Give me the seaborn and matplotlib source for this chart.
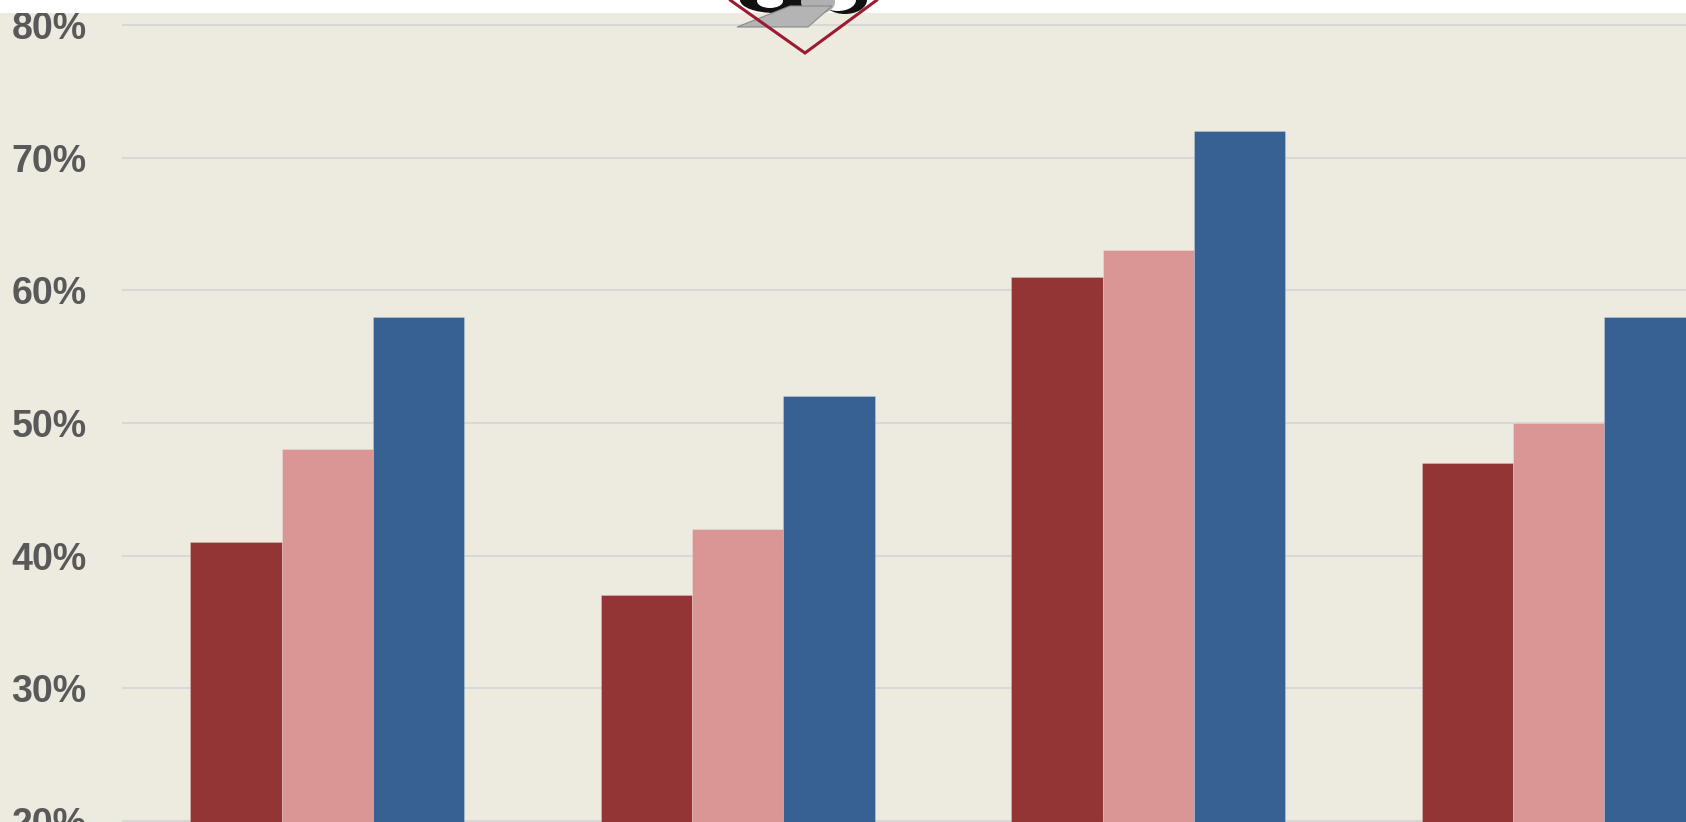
import matplotlib
matplotlib.use("Agg")
import numpy as np
import pandas as pd
import seaborn as sns
import matplotlib.pyplot as plt
from matplotlib.patches import Rectangle, Ellipse, Polygon
from matplotlib.lines import Line2D

# data (percent)
groups = ["Group 1", "Group 2", "Group 3", "Group 4"]
series = ["Series A", "Series B", "Series C"]
series_a = [41, 37, 61, 47]
series_b = [48, 42, 63, 50]
series_c = [58, 52, 72, 58]
y_ticks = [20, 30, 40, 50, 60, 70, 80]
y_labels = ["20%", "30%", "40%", "50%", "60%", "70%", "80%"]

colors = ["#943535", "#DA9695", "#366192"]
BG = "#EDEBE0"

df = pd.DataFrame({
    "group": groups * 3,
    "series": [s for s in series for _ in groups],
    "value": series_a + series_b + series_c,
})

sns.set_theme(style="white")
plt.rcParams["font.family"] = ["Liberation Sans", "DejaVu Sans"]

W, H = 1686, 822
fig = plt.figure(figsize=(W / 100, H / 100), dpi=100, facecolor=BG)

def px(x, y):
    # pixel position (from top-left) -> figure fraction
    return x / W, 1 - y / H

left, top = 122, 13
ax = fig.add_axes([left / W, 0, (W - left) / W, (H - top) / H])
ax.set_facecolor(BG)

sns.barplot(data=df, x="group", y="value", hue="series", palette=colors,
            width=0.667, gap=0, saturation=1, ax=ax, legend=False,
            edgecolor=(1, 1, 1, 0.25), linewidth=0.6, zorder=2)

ax.set_xlim(-0.5, 3.31)
ax.set_ylim(19.92, 80.9)
ax.set_yticks(y_ticks, y_labels)
ax.set_xticks([])
ax.set_xlabel("")
ax.set_ylabel("")
ax.yaxis.grid(True, color="#D8D8D6", linewidth=1.5, zorder=0)
ax.set_axisbelow(True)
for s in ax.spines.values():
    s.set_visible(False)
ax.tick_params(axis="y", length=0, pad=25.5, labelsize=27, labelcolor="#595959")
for t in ax.get_yticklabels():
    t.set_fontweight("bold")

# white strip along the top edge
fig.add_artist(Rectangle(px(0, top), 1, top / H, transform=fig.transFigure,
                         facecolor="white", edgecolor="none", zorder=5))

# partial logo at top centre
tf = fig.transFigure
fig.add_artist(Ellipse(px(775, 0), 70 / W, 26 / H, transform=tf,
                       facecolor="#111111", edgecolor="none", zorder=6))
fig.add_artist(Ellipse(px(770, 1), 26 / W, 14 / H, transform=tf,
                       facecolor="white", edgecolor="none", zorder=7))
fig.add_artist(Ellipse(px(845, 0), 44 / W, 28 / H, transform=tf,
                       facecolor="#111111", edgecolor="none", zorder=6))
fig.add_artist(Ellipse(px(838, 0), 36 / W, 22 / H, transform=tf,
                       facecolor="white", edgecolor="none", zorder=6))
fig.add_artist(Ellipse(px(818, 2), 34 / W, 24 / H, transform=tf,
                       facecolor="#B0B0B0", edgecolor="none", zorder=7))
fig.add_artist(Polygon([px(737, 27), px(808, 27), px(832, 6), px(790, 6)],
                       closed=True, transform=tf, facecolor="#B4B4B4",
                       edgecolor="#8A8A8A", linewidth=0.8, zorder=7))
xs, ys = zip(px(730, 0), px(805, 53), px(877, 0))
fig.add_artist(Line2D(xs, ys, transform=tf, color="#9B1B30", linewidth=2.2,
                      zorder=8, solid_joinstyle="miter"))

fig.savefig("out.png", dpi=100, facecolor=BG)
